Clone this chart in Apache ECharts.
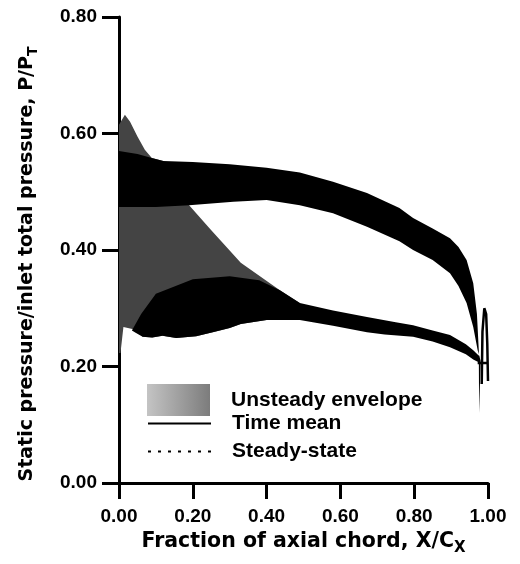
<!DOCTYPE html>
<html>
<head>
<meta charset="utf-8">
<script src="https://cdn.jsdelivr.net/npm/echarts@6/dist/echarts.min.js"></script>
<style>
  html, body { margin: 0; padding: 0; background: #fff; }
  #chart { width: 520px; height: 564px; }
</style>
</head>
<body>
<div id="chart"></div>
<script>
const xTicks = [0, 0.2, 0.4, 0.6, 0.8, 1.0]
const yTicks = [0, 0.2, 0.4, 0.6, 0.8]

// unsteady envelope as [X/Cx, P/PT]
const leadingTop = [[0, 0.615], [0.016, 0.632], [0.03, 0.62], [0.05, 0.595], [0.07, 0.572], [0.089, 0.558], [0.12, 0.553], [0.19, 0.5], [0.19, 0.477], [0.247, 0.436], [0.33, 0.378], [0.436, 0.331], [0.49, 0.309]]
const leadingBottom = [[0.49, 0.28], [0.4, 0.28], [0.33, 0.273], [0.3, 0.266], [0.254, 0.259], [0.209, 0.252], [0.155, 0.249], [0.118, 0.253], [0.09, 0.25], [0.064, 0.251], [0.045, 0.263], [0.012, 0.268], [0.004, 0.223], [0, 0.223]]
const suctionTop = [[0, 0.57], [0.05, 0.565], [0.089, 0.558], [0.12, 0.553], [0.2, 0.551], [0.3, 0.547], [0.4, 0.541], [0.49, 0.533], [0.58, 0.517], [0.672, 0.498], [0.76, 0.472], [0.797, 0.455], [0.85, 0.437], [0.897, 0.42], [0.92, 0.405], [0.942, 0.383], [0.96, 0.343], [0.97, 0.29], [0.975, 0.228]]
const trailingSpike = [[0.976, 0.12], [0.98, 0.21]]
const suctionBottom = [[0, 0.474], [0.1, 0.474], [0.19, 0.477], [0.31, 0.483], [0.4, 0.486], [0.49, 0.477], [0.58, 0.463], [0.672, 0.44], [0.76, 0.415], [0.797, 0.4], [0.85, 0.383], [0.897, 0.36], [0.92, 0.338], [0.942, 0.309], [0.96, 0.268], [0.972, 0.228]]
const pressureTop = [[0.035, 0.262], [0.06, 0.29], [0.1, 0.325], [0.2, 0.35], [0.3, 0.355], [0.38, 0.348], [0.436, 0.331], [0.49, 0.309], [0.58, 0.296], [0.672, 0.285], [0.75, 0.276], [0.797, 0.271], [0.85, 0.262], [0.897, 0.254], [0.94, 0.238], [0.96, 0.228], [0.976, 0.218]]
const pressureBottom = [[0.045, 0.258], [0.064, 0.251], [0.09, 0.25], [0.118, 0.253], [0.155, 0.249], [0.209, 0.252], [0.254, 0.259], [0.3, 0.266], [0.33, 0.273], [0.4, 0.28], [0.49, 0.28], [0.58, 0.27], [0.672, 0.259], [0.72, 0.255], [0.797, 0.251], [0.85, 0.243], [0.897, 0.233], [0.94, 0.221], [0.96, 0.212], [0.976, 0.207]]
const trailingLoop = [[0.983, 0.17], [0.985, 0.26], [0.99, 0.3], [0.995, 0.29], [0.998, 0.24], [1.0, 0.175]]
const trailingBar = [[0.972, 0.206], [1.0, 0.206]]

const font = 'Liberation Sans, Arial, Helvetica, sans-serif'
const wideFont = 'DejaVu Sans, Verdana, sans-serif'

const plotGrey = '#444444'
const swatchGrey = new echarts.graphic.LinearGradient(0, 0, 1, 0, [
  { offset: 0, color: '#c4c4c4' },
  { offset: 1, color: '#7c7c7c' }
])

function polygon(name, pts, fill, z) {
  return {
    name: name,
    type: 'custom',
    coordinateSystem: 'cartesian2d',
    data: pts,
    z: z,
    clip: false,
    silent: true,
    itemStyle: { color: fill },
    renderItem: function (params, api) {
      if (params.dataIndex !== 0) return null
      return {
        type: 'polygon',
        shape: { points: pts.map(function (p) { return api.coord(p) }) },
        style: { fill: fill, stroke: null }
      }
    }
  }
}

const chart = echarts.init(document.getElementById('chart'), null, { renderer: 'canvas' })

const legendText = { fontFamily: font, fontWeight: 'bold', fontSize: 21, color: '#000', padding: [0, 0, 0, 16] }

const option = {
  animation: false,
  backgroundColor: '#fff',
  grid: { left: 119, right: 32, top: 17, bottom: 81, containLabel: false, outerBoundsMode: 'none' },
  legend: [
    {
      data: [{ name: 'Unsteady envelope', icon: 'rect', itemStyle: { color: swatchGrey } }],
      left: 147,
      top: 384,
      padding: 0,
      itemWidth: 63,
      itemHeight: 32,
      selectedMode: false,
      textStyle: legendText
    },
    {
      data: ['Time mean', 'Steady-state'],
      orient: 'vertical',
      left: 147,
      top: 413,
      padding: 0,
      itemWidth: 63,
      itemHeight: 14,
      itemGap: 7,
      selectedMode: false,
      itemStyle: { opacity: 0 },
      textStyle: legendText
    }
  ],
  xAxis: {
    type: 'value',
    min: xTicks[0],
    max: xTicks[xTicks.length - 1],
    interval: 0.2,
    name: '{n|Fraction of axial chord, X/C}{s|X}',
    nameLocation: 'middle',
    nameGap: 44,
    nameTextStyle: {
      rich: {
        n: { fontFamily: wideFont, fontWeight: 'bold', fontSize: 20.5, color: '#000', lineHeight: 28 },
        s: { fontFamily: wideFont, fontWeight: 'bold', fontSize: 15, color: '#000', lineHeight: 12, verticalAlign: 'bottom' }
      }
    },
    axisLine: { lineStyle: { color: '#000', width: 3 } },
    axisTick: { inside: false, length: 16, lineStyle: { color: '#000', width: 3 } },
    axisLabel: {
      margin: 24,
      fontFamily: font, fontWeight: 'bold', fontSize: 19, color: '#000',
      formatter: function (v) { return v.toFixed(2) }
    },
    splitLine: { show: false }
  },
  yAxis: {
    type: 'value',
    min: yTicks[0],
    max: yTicks[yTicks.length - 1],
    interval: 0.2,
    name: '{n|Static pressure/inlet total pressure, P/P}{s|T}',
    nameLocation: 'middle',
    nameGap: 79,
    nameRotate: 90,
    nameTextStyle: {
      padding: [0, 28, 0, 0],
      rich: {
        n: { fontFamily: wideFont, fontWeight: 'bold', fontSize: 19, color: '#000', lineHeight: 26 },
        s: { fontFamily: wideFont, fontWeight: 'bold', fontSize: 14, color: '#000', lineHeight: 12, verticalAlign: 'bottom' }
      }
    },
    axisLine: { show: true, lineStyle: { color: '#000', width: 3 } },
    axisTick: { show: true, inside: false, length: 17, lineStyle: { color: '#000', width: 3 } },
    axisLabel: {
      margin: 22,
      fontFamily: font, fontWeight: 'bold', fontSize: 19, color: '#000',
      formatter: function (v) { return v.toFixed(2) }
    },
    splitLine: { show: false }
  },
  series: [
    polygon('Unsteady envelope', leadingTop.concat(leadingBottom), plotGrey, 1),
    polygon('suction', suctionTop.concat(trailingSpike, suctionBottom.slice().reverse()), '#000', 2),
    polygon('pressure', pressureTop.concat(pressureBottom.slice().reverse()), '#000', 2),
    {
      name: 'te loop',
      type: 'line',
      data: trailingLoop,
      symbol: 'none',
      clip: false,
      lineStyle: { color: '#000', width: 2.5 },
      z: 3
    },
    {
      name: 'te bar',
      type: 'line',
      data: trailingBar,
      symbol: 'none',
      clip: false,
      lineStyle: { color: '#000', width: 2.5 },
      z: 3
    },
    {
      name: 'Time mean',
      type: 'line',
      data: [],
      symbol: 'none',
      itemStyle: { color: '#000' },
      lineStyle: { color: '#000', width: 3 }
    },
    {
      name: 'Steady-state',
      type: 'line',
      data: [],
      symbol: 'none',
      itemStyle: { color: '#000' },
      lineStyle: { color: '#000', width: 3, type: [3, 7] }
    }
  ]
}

chart.setOption(option)
</script>
</body>
</html>
